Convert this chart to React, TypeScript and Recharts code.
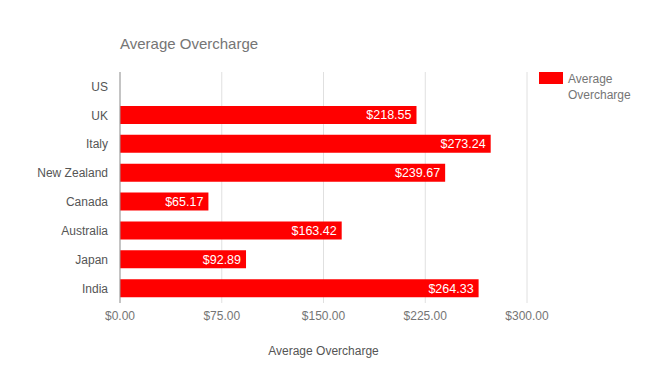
import { BarChart, Bar, XAxis, YAxis, CartesianGrid, LabelList } from 'recharts';

const countries = ['US', 'UK', 'Italy', 'New Zealand', 'Canada', 'Australia', 'Japan', 'India'];
const overcharge: (number | null)[] = [null, 218.55, 273.24, 239.67, 65.17, 163.42, 92.89, 264.33];
const xTicks = [0, 75, 150, 225, 300];

const data = countries.map((name, i) => ({ name, value: overcharge[i] }));

const fmt = (v: any) => (v == null ? '' : `$${Number(v).toFixed(2)}`);

const FONT = 'Arial, "Liberation Sans", sans-serif';

function LegendBox() {
  return (
    <div
      style={{
        position: 'absolute',
        left: 539,
        top: 71,
        display: 'flex',
        fontFamily: FONT,
        fontSize: 12,
        color: '#757575',
      }}
    >
      <div style={{ width: 24, height: 12, background: '#ff0000', marginTop: 1 }} />
      <div style={{ marginLeft: 5, lineHeight: '16px' }}>
        Average
        <br />
        Overcharge
      </div>
    </div>
  );
}

export default function App() {
  return (
    <div style={{ position: 'absolute', left: 0, top: 0, width: 645, height: 376, background: '#fff' }}>
      <div
        style={{
          position: 'absolute',
          left: 120,
          top: 35,
          fontFamily: FONT,
          fontSize: 15,
          color: '#757575',
        }}
      >
        Average Overcharge
      </div>
      <LegendBox />
      <BarChart
        width={645}
        height={376}
        data={data}
        layout="vertical"
        margin={{ top: 72, right: 118, bottom: 17, left: 0 }}
        barSize={18}
      >
        <CartesianGrid horizontal={false} stroke="#e0e0e0" />
        <XAxis
          type="number"
          domain={[0, 300]}
          ticks={xTicks}
          tickFormatter={fmt}
          axisLine={false}
          tickLine={false}
          height={56}
          tick={{ fill: '#757575', fontSize: 12, fontFamily: FONT }}
          label={{
            value: 'Average Overcharge',
            position: 'insideBottom',
            offset: 4,
            fill: '#555',
            fontSize: 12,
            fontFamily: FONT,
          }}
        />
        <YAxis
          type="category"
          dataKey="name"
          width={120}
          tickLine={false}
          tickMargin={6}
          axisLine={{ stroke: '#999' }}
          tick={{ fill: '#555', fontSize: 12, fontFamily: FONT }}
        />
        <Bar dataKey="value" fill="#ff0000" isAnimationActive={false}>
          <LabelList
            dataKey="value"
            position="insideRight"
            formatter={fmt}
            fill="#ffffff"
            fontSize={12.5}
            fontFamily={FONT}
          />
        </Bar>
      </BarChart>
    </div>
  );
}
